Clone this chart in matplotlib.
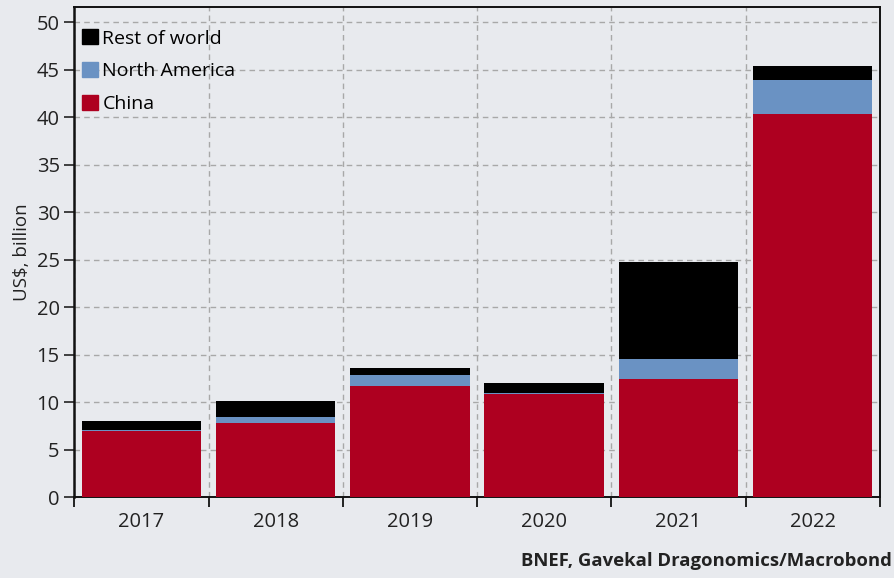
import numpy as np
import matplotlib.pyplot as plt
from matplotlib.patches import Patch

plt.rcParams['font.family'] = ['Open Sans', 'DejaVu Sans']

years = ['2017', '2018', '2019', '2020', '2021', '2022']
china = [7.0, 7.8, 11.7, 10.8, 12.4, 40.3]
north_america = [0.05, 0.6, 1.1, 0.2, 2.1, 3.6]
rest_of_world = [1.0, 1.7, 0.8, 1.0, 10.3, 1.5]

c_china = '#AE0020'
c_na = '#6A92C3'
c_row = '#000000'
bg = '#E8EAEE'

x = np.arange(len(years))
china = np.array(china)
na = np.array(north_america)
row = np.array(rest_of_world)

fig = plt.figure(figsize=(8.95, 5.78), dpi=100, facecolor=bg)
ax = fig.add_axes([0.083, 0.140, 0.900, 0.848], facecolor=bg)

w = 0.89
ax.bar(x, china, w, color=c_china, zorder=3)
ax.bar(x, na, w, bottom=china, color=c_na, zorder=3)
ax.bar(x, row, w, bottom=china + na, color=c_row, zorder=3)

ax.set_xlim(-0.5, len(years) - 0.5)
ax.set_ylim(0, 51.6)
ax.set_yticks(np.arange(0, 51, 5))
ax.tick_params(axis='y', labelsize=14.5, length=7, width=1.2, direction='out', colors='#222222')

ax.set_xticks(np.arange(-0.5, len(years), 1.0))
ax.set_xticklabels([])
ax.set_xticks(x, minor=True)
ax.set_xticklabels(years, minor=True)
ax.tick_params(axis='x', which='major', length=7, width=1.2)
ax.tick_params(axis='x', which='minor', length=0, labelsize=14.5, pad=11, colors='#222222')

ax.grid(True, which='major', axis='both', color='#A8A8A8', linestyle=(0, (4, 3)), linewidth=1.0, zorder=0)

for s in ax.spines.values():
    s.set_color('#111111')
    s.set_linewidth(1.4)
ax.spines['left'].set_linewidth(1.8)

ax.set_ylabel('US$, billion', fontsize=13.5, labelpad=4, color='#222222')

handles = [Patch(color=c_row, label='Rest of world'),
           Patch(color=c_na, label='North America'),
           Patch(color=c_china, label='China')]
ax.legend(handles=handles, loc='upper left', frameon=False, fontsize=14,
          handlelength=0.8, handleheight=0.8, handletextpad=0.25,
          labelspacing=0.75, borderaxespad=0.0, bbox_to_anchor=(0.0, 0.97))

fig.text(0.997, 0.03, 'BNEF, Gavekal Dragonomics/Macrobond', ha='right', va='center',
         fontsize=13.3, fontweight='bold', color='#222222')

fig.savefig('out.png', dpi=100, facecolor=bg)
